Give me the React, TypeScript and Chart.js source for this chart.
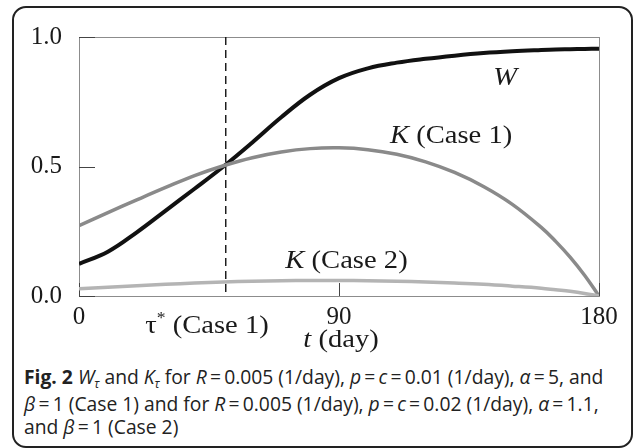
import React, { useEffect, useRef } from "react";
import { Chart, registerables } from "chart.js";

Chart.register(...registerables);

// ---- data ----
const DAYS = [0, 10, 20, 30, 40, 50, 60, 70, 80, 90, 100, 110, 120, 130, 140, 150, 160, 165, 170, 175, 180];
const W_VALUES = [0.124, 0.171, 0.246, 0.33, 0.414, 0.5, 0.593, 0.69, 0.777, 0.841, 0.879, 0.901, 0.916, 0.928, 0.938, 0.945, 0.95, 0.952, 0.953, 0.954, 0.955];
const K_CASE1 = [0.272, 0.322, 0.371, 0.419, 0.465, 0.503, 0.534, 0.556, 0.569, 0.572, 0.565, 0.547, 0.518, 0.477, 0.423, 0.354, 0.265, 0.211, 0.15, 0.08, 0.0];
const K_CASE2 = [0.028, 0.034, 0.04, 0.045, 0.05, 0.054, 0.057, 0.059, 0.06, 0.06, 0.059, 0.057, 0.054, 0.05, 0.045, 0.038, 0.03, 0.024, 0.018, 0.01, 0.0];
const X_TICKS = [0, 90, 180];
const Y_TICKS = [0, 0.5, 1.0];
const TAU_STAR = 50.8;

type Part = { t: string; italic?: boolean; sup?: boolean };

const SERIF = '"Liberation Serif", "Times New Roman", serif';

function drawRich(ctx: CanvasRenderingContext2D, parts: Part[], cx: number, baseY: number, size: number, stretch: number) {
  ctx.save();
  ctx.textBaseline = "alphabetic";
  ctx.textAlign = "left";
  ctx.fillStyle = "#1a1a1a";
  const fontFor = (p: Part) => `${p.italic ? "italic " : ""}${p.sup ? Math.round(size * 0.62) : size}px ${SERIF}`;
  let total = 0;
  for (const p of parts) {
    ctx.font = fontFor(p);
    total += ctx.measureText(p.t).width;
  }
  ctx.translate(cx, baseY);
  ctx.scale(stretch, 1);
  let x = -total / 2;
  for (const p of parts) {
    ctx.font = fontFor(p);
    ctx.fillText(p.t, x, p.sup ? -size * 0.38 : 0);
    x += ctx.measureText(p.t).width;
  }
  ctx.restore();
}

const line = (ctx: CanvasRenderingContext2D, x1: number, y1: number, x2: number, y2: number) => {
  ctx.beginPath();
  ctx.moveTo(x1, y1);
  ctx.lineTo(x2, y2);
  ctx.stroke();
};

const figurePlugin = {
  id: "figureDecor",
  beforeDatasetsDraw(chart: any) {
    const { ctx, chartArea: a, scales } = chart;
    const xs = scales.x;
    const ys = scales.y;
    ctx.save();
    ctx.strokeStyle = "#8c8c8c";
    ctx.lineWidth = 1;
    ctx.strokeRect(Math.round(a.left) + 0.5, Math.round(a.top) + 0.5, Math.round(a.right - a.left), Math.round(a.bottom - a.top));
    ctx.strokeStyle = "#444";
    for (const v of Y_TICKS) {
      const py = Math.round(ys.getPixelForValue(v)) + 0.5;
      line(ctx, a.left, py, a.left + 16, py);
    }
    for (const v of X_TICKS) {
      const px = Math.round(xs.getPixelForValue(v)) + 0.5;
      line(ctx, px, a.bottom, px, a.bottom - 13);
    }
    ctx.setLineDash([8, 5]);
    ctx.strokeStyle = "#111";
    ctx.lineWidth = 1.4;
    const tx = xs.getPixelForValue(TAU_STAR);
    line(ctx, tx, a.top, tx, a.bottom);
    ctx.restore();
  },
  afterDraw(chart: any) {
    const { ctx, scales } = chart;
    const xs = scales.x;
    const ys = scales.y;
    const size = 26;
    const st = 1.1;
    const P = (t: number, v: number) => [xs.getPixelForValue(t), ys.getPixelForValue(v)];
    let p = P(147.5, 0.815);
    drawRich(ctx, [{ t: "W", italic: true }], p[0], p[1], size, st);
    p = P(128.8, 0.592);
    drawRich(ctx, [{ t: "K", italic: true }, { t: " (Case 1)" }], p[0], p[1], size, st);
    p = P(92.6, 0.11);
    drawRich(ctx, [{ t: "K", italic: true }, { t: " (Case 2)" }], p[0], p[1], size, st);
    p = P(44.3, -0.141);
    drawRich(ctx, [{ t: "τ" }, { t: "*", sup: true }, { t: " (Case 1)" }], p[0], p[1], size, st);
    p = P(90.7, -0.195);
    drawRich(ctx, [{ t: "t", italic: true }, { t: " (day)" }], p[0], p[1], size, st);
  },
};

function ChartCanvas() {
  const ref = useRef<HTMLCanvasElement | null>(null);
  useEffect(() => {
    if (!ref.current) return;
    const mk = (vals: number[]) => DAYS.map((d, i) => ({ x: d, y: vals[i] }));
    const chart = new Chart(ref.current, {
      type: "line",
      data: {
        datasets: [
          { label: "K (Case 2)", data: mk(K_CASE2), borderColor: "#b4b4b4", borderWidth: 3.5, pointRadius: 0, tension: 0.4, fill: false },
          { label: "K (Case 1)", data: mk(K_CASE1), borderColor: "#8a8a8a", borderWidth: 3.5, pointRadius: 0, tension: 0.4, fill: false },
          { label: "W", data: mk(W_VALUES), borderColor: "#111111", borderWidth: 4, pointRadius: 0, tension: 0.4, fill: false },
        ],
      },
      options: {
        animation: false,
        responsive: false,
        devicePixelRatio: 1,
        layout: { padding: { top: 37, right: 35, left: 0, bottom: 0 } },
        plugins: { legend: { display: false }, tooltip: { enabled: false }, title: { display: false } },
        scales: {
          x: {
            type: "linear",
            min: 0,
            max: 180,
            grid: { display: false },
            border: { display: false },
            afterBuildTicks: (s: any) => {
              s.ticks = X_TICKS.map((v) => ({ value: v }));
            },
            afterFit: (s: any) => {
              s.height = 64;
            },
            ticks: {
              autoSkip: false,
              maxRotation: 0,
              padding: -2,
              color: "#1a1a1a",
              font: { family: SERIF, size: 25 },
              callback: (v: any) => String(v),
            },
          },
          y: {
            type: "linear",
            min: 0,
            max: 1,
            grid: { display: false },
            border: { display: false },
            afterBuildTicks: (s: any) => {
              s.ticks = Y_TICKS.map((v) => ({ value: v }));
            },
            afterFit: (s: any) => {
              s.width = 79;
            },
            ticks: {
              padding: 9,
              color: "#1a1a1a",
              font: { family: SERIF, size: 25 },
              callback: (v: any) => Number(v).toFixed(1),
            },
          },
        },
      },
      plugins: [figurePlugin],
    } as any);
    return () => chart.destroy();
  }, []);
  return <canvas ref={ref} width={634} height={360} style={{ position: "absolute", left: 0, top: 0, width: 634, height: 360 }} />;
}

const I = ({ children }: { children: React.ReactNode }) => <i>{children}</i>;
const Sub = ({ children }: { children: React.ReactNode }) => (
  <span style={{ fontSize: "12px", position: "relative", top: "4px", fontStyle: "italic" }}>{children}</span>
);
const EQ = "\u2009=\u2009";

export default function App() {
  return (
    <div>
      <div
        style={{
          position: "absolute",
          left: 12,
          top: 6,
          width: 621,
          height: 442,
          boxSizing: "border-box",
          border: "2px solid #222",
          borderRadius: 14,
        }}
      />
      <ChartCanvas />
      <div
        style={{
          position: "absolute",
          left: 24,
          top: 365,
          fontFamily: '"Open Sans", "Noto Sans", sans-serif',
          fontSize: "19.3px",
          lineHeight: "23.5px",
          color: "#222",
          whiteSpace: "nowrap",
        }}
      >
        <div>
          <b>Fig. 2</b> <I>W</I>
          <Sub>τ</Sub> and <I>K</I>
          <Sub>τ</Sub> for <I>R</I>
          {EQ}0.005 (1/day), <I>p</I>
          {EQ}
          <I>c</I>
          {EQ}0.01 (1/day), <I>α</I>
          {EQ}5, and
        </div>
        <div>
          <I>β</I>
          {EQ}1 (Case 1) and for <I>R</I>
          {EQ}0.005 (1/day), <I>p</I>
          {EQ}
          <I>c</I>
          {EQ}0.02 (1/day), <I>α</I>
          {EQ}1.1,
        </div>
        <div>
          and <I>β</I>
          {EQ}1 (Case 2)
        </div>
      </div>
    </div>
  );
}
